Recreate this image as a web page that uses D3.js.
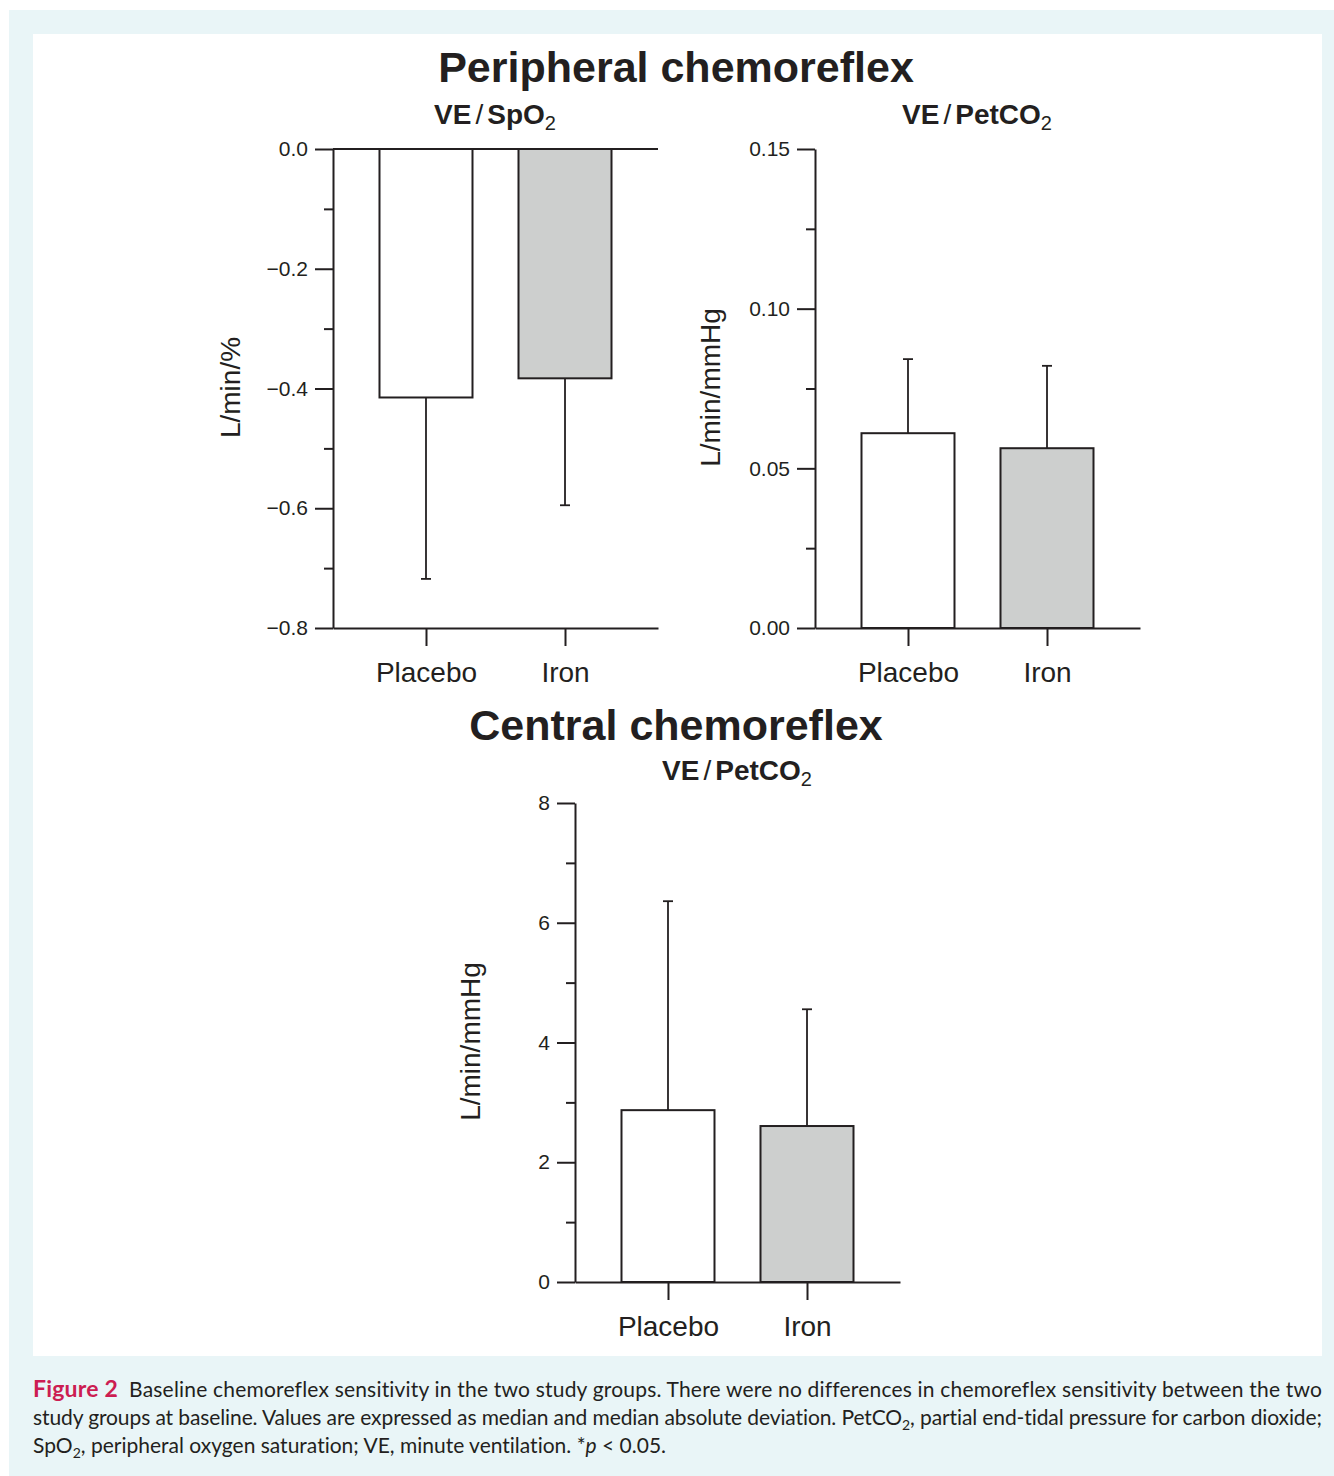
<!DOCTYPE html>
<html lang="en">
<head>
<meta charset="UTF-8">
<title>Figure 2 - chemoreflex sensitivity</title>
<script src="https://d3js.org/d3.v7.min.js"></script>
<style>
  body { margin: 0; background: #fff; }
  svg { display: block; }
  .axis path, .axis line { stroke: #231f20; stroke-width: 2; fill: none; }
  .axis text { font-family: "Liberation Sans", Arial, sans-serif; fill: #231f20; }
  .caption { font-variant-ligatures: none; font-feature-settings: "liga" 0; }
</style>
</head>
<body>
<div id="chart"></div>
<script>
// values (median and median absolute deviation)
const groups = ["Placebo", "Iron"];
const barFills = ["#ffffff", "#cdcfce"];

const spo2Median = [-0.415, -0.383];
const spo2Mad = [0.303, 0.212];

const petPeriphMedian = [0.061, 0.0563];
const petPeriphMad = [0.0232, 0.0258];

const petCentralMedian = [2.87, 2.605];
const petCentralMad = [3.49, 1.95];

const W = 1334, H = 1476;
const ink = "#231f20";

const svg = d3.select("#chart").append("svg")
    .attr("width", W)
    .attr("height", H);

// page frame
svg.append("rect").attr("x", 9).attr("y", 10).attr("width", W - 9).attr("height", H - 10).attr("fill", "#e9f5f7");
svg.append("rect").attr("x", 33).attr("y", 34).attr("width", 1289).attr("height", 1322).attr("fill", "#fff");

const font = "'Liberation Sans', Arial, sans-serif";

function title(text, x, y) {
    svg.append("text")
        .attr("x", x).attr("y", y)
        .attr("text-anchor", "middle")
        .style("font-family", font)
        .style("font-weight", "bold")
        .style("font-size", "43px")
        .attr("fill", ink)
        .text(text);
}

// "VE / XXX2" subtitle, bold with thin slash and subscript
function subtitle(name, x, y) {
    const t = svg.append("text")
        .attr("x", x).attr("y", y)
        .attr("text-anchor", "middle")
        .style("font-family", font)
        .style("font-size", "28px")
        .attr("fill", ink);
    t.append("tspan").style("font-weight", "bold").text("VE");
    t.append("tspan").attr("dx", 4).style("font-weight", "normal").text("/");
    t.append("tspan").attr("dx", 4).style("font-weight", "bold").text(name);
    t.append("tspan").attr("dy", 6).style("font-size", "20px").text("2");
}

function panel(o) {
    const width = 325, height = 479;
    const g = svg.append("g").attr("transform", `translate(${o.left},${o.top})`);

    const y = d3.scaleLinear().domain(o.domain).range([height, 0]);
    const x = d3.scalePoint().domain(groups).range([0, width]).padding(0.669);
    const barW = 93;

    const major = d3.range(o.domain[0], o.domain[1] + o.major / 2, o.major);
    const minor = d3.range(o.domain[0], o.domain[1] + o.minor / 2, o.minor)
        .filter(v => !major.some(m => Math.abs(m - v) < 1e-9));

    // minor ticks
    g.append("g").attr("class", "axis")
        .call(d3.axisLeft(y).tickValues(minor).tickSize(9).tickSizeOuter(0).tickFormat(""))
        .call(a => a.select(".domain").remove());

    // major ticks + labels
    g.append("g").attr("class", "axis")
        .call(d3.axisLeft(y).tickValues(major).tickSize(18).tickSizeOuter(0).tickPadding(7).tickFormat(d3.format(o.fmt)))
        .call(a => a.selectAll("text").style("font-size", "21px"));

    // zero line for negative bars
    if (o.domain[0] < 0) {
        g.append("line")
            .attr("x1", 0).attr("x2", width)
            .attr("y1", y(0)).attr("y2", y(0))
            .attr("stroke", ink).attr("stroke-width", 2);
    }

    const rows = groups.map((k, i) => ({ k, v: o.median[i], d: o.mad[i], fill: barFills[i] }));

    // error bars (away from zero)
    rows.forEach(r => {
        const end = r.v < 0 ? r.v - r.d : r.v + r.d;
        g.append("line")
            .attr("x1", x(r.k)).attr("x2", x(r.k))
            .attr("y1", y(r.v)).attr("y2", y(end))
            .attr("stroke", ink).attr("stroke-width", 1.8);
        g.append("line")
            .attr("x1", x(r.k) - 5).attr("x2", x(r.k) + 5)
            .attr("y1", y(end)).attr("y2", y(end))
            .attr("stroke", ink).attr("stroke-width", 1.8);
    });

    g.selectAll(".bar")
        .data(rows)
        .enter()
        .append("rect")
        .attr("class", "bar")
        .attr("x", d => x(d.k) - barW / 2)
        .attr("y", d => Math.min(y(0), y(d.v)))
        .attr("width", barW)
        .attr("height", d => Math.abs(y(d.v) - y(0)))
        .attr("fill", d => d.fill)
        .attr("stroke", ink)
        .attr("stroke-width", 2);

    // category axis at bottom
    g.append("g").attr("class", "axis")
        .attr("transform", `translate(0,${height})`)
        .call(d3.axisBottom(x).tickSize(18).tickSizeOuter(0).tickPadding(16))
        .call(a => a.selectAll("text").style("font-size", "28px"));

    // y label
    svg.append("text")
        .attr("transform", `translate(${o.labelX},${o.top + height / 2 - 1}) rotate(-90)`)
        .attr("text-anchor", "middle")
        .style("font-family", font)
        .style("font-size", "28px")
        .attr("fill", ink)
        .text(o.label);
}

title("Peripheral chemoreflex", 676, 82);
subtitle("SpO", 495, 124);
subtitle("PetCO", 977, 124);

panel({ left: 333, top: 149, domain: [-0.8, 0], major: 0.2, minor: 0.1, fmt: ".1f",
        median: spo2Median, mad: spo2Mad, label: "L/min/%", labelX: 240 });
panel({ left: 815, top: 149, domain: [0, 0.15], major: 0.05, minor: 0.025, fmt: ".2f",
        median: petPeriphMedian, mad: petPeriphMad, label: "L/min/mmHg", labelX: 720 });

title("Central chemoreflex", 676, 740);
subtitle("PetCO", 737, 780);

panel({ left: 575, top: 803, domain: [0, 8], major: 2, minor: 1, fmt: "d",
        median: petCentralMedian, mad: petCentralMad, label: "L/min/mmHg", labelX: 480 });

// caption
const capFont = "Lato, 'Open Sans', sans-serif";
function capLine(y, parts, justify) {
    const t = svg.append("text")
        .attr("class", "caption")
        .attr("x", 33).attr("y", y)
        .style("font-family", capFont)
        .style("font-size", "21px")
        .attr("fill", ink);
    if (justify) t.attr("textLength", 1289).attr("lengthAdjust", "spacing");
    parts.forEach(p => {
        const s = t.append("tspan").text(p.t);
        if (p.bold) s.style("font-weight", "bold");
        if (p.size) s.style("font-size", p.size);
        if (p.color) s.attr("fill", p.color);
        if (p.italic) s.style("font-style", "italic");
        if (p.sub) s.attr("dy", 5).style("font-size", "14px");
        if (p.up) s.attr("dy", -5);
    });
}

capLine(1397, [
    { t: "Figure 2", bold: true, color: "#cc1d52", size: "23px" },
    { t: "\u00a0 Baseline chemoreflex sensitivity in the two study groups. There were no differences in chemoreflex sensitivity between the two" }
], true);
capLine(1425, [
    { t: "study groups at baseline. Values are expressed as median and median absolute deviation. PetCO" },
    { t: "2", sub: true },
    { t: ", partial end-tidal pressure for carbon dioxide;", up: true }
], true);
capLine(1453, [
    { t: "SpO" },
    { t: "2", sub: true },
    { t: ", peripheral oxygen saturation; VE, minute ventilation. *", up: true },
    { t: "p", italic: true },
    { t: " < 0.05." }
], false);
</script>
</body>
</html>
